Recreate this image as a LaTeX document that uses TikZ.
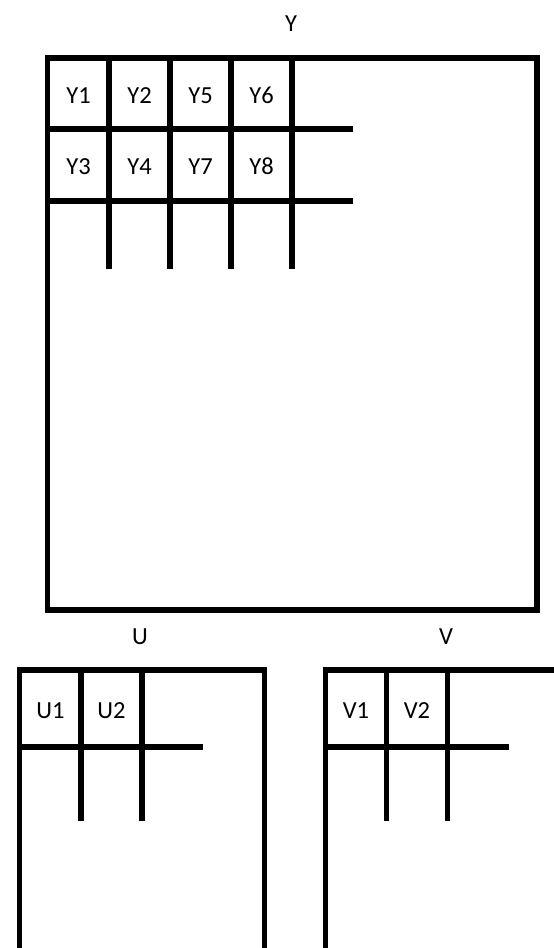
\documentclass[tikz,border=0pt]{standalone}
\usepackage{fontspec}
\setmainfont{Carlito}
\begin{document}
\begin{tikzpicture}[x=1pt,y=-1pt,
  frame/.style={line width=5.5pt, line join=miter},
  grid/.style={line width=5.5pt, line cap=butt},
  lbl/.style={font=\fontsize{24.5}{28}\selectfont, inner sep=0pt, anchor=base}]
\useasboundingbox[fill=white] (0,0) rectangle (554,948);
% ---- Y ----
\node[lbl] (Ylab) at (291,31) {Y};
\draw[frame] (47.5,58) rectangle (537,610);
\foreach \x in {109,170,231,292} \draw[grid] (\x,58) -- (\x,269);
\foreach \y in {129,201} \draw[grid] (45,\y) -- (353,\y);
\node[lbl] (Y1) at (78.5,103) {Y1};
\node[lbl] (Y2) at (139.5,103) {Y2};
\node[lbl] (Y5) at (200.5,103) {Y5};
\node[lbl] (Y6) at (261.5,103) {Y6};
\node[lbl] (Y3) at (78.5,174) {Y3};
\node[lbl] (Y4) at (139.5,174) {Y4};
\node[lbl] (Y7) at (200.5,174) {Y7};
\node[lbl] (Y8) at (261.5,174) {Y8};
% ---- U ----
\node[lbl] (Ulab) at (140,644) {U};
\draw[frame] (19.5,950) -- (19.5,670) -- (264.5,670) -- (264.5,950);
\foreach \x in {81,142} \draw[grid] (\x,670) -- (\x,821);
\draw[grid] (17,747) -- (203,747);
\node[lbl] (U1) at (50.5,718) {U1};
\node[lbl] (U2) at (111.5,718) {U2};
% ---- V ----
\node[lbl] (Vlab) at (446,644) {V};
\draw[frame] (325.5,950) -- (325.5,670) -- (560,670);
\foreach \x in {386.5,447.5} \draw[grid] (\x,670) -- (\x,821);
\draw[grid] (323,747) -- (509,747);
\node[lbl] (V1) at (356,718) {V1};
\node[lbl] (V2) at (417,718) {V2};
\end{tikzpicture}
\end{document}
